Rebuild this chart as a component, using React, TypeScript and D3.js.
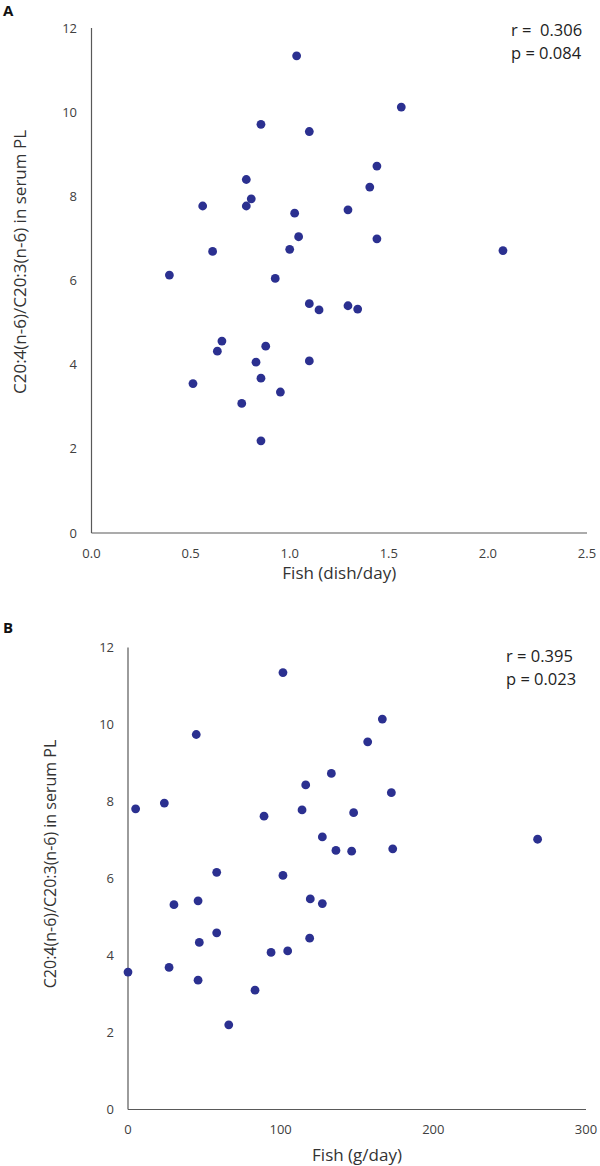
import React from "react";
import * as d3 from "d3";

const fishDishA = [1.035, 0.855, 0.781, 0.806, 0.781, 0.561, 1.025, 1.045, 1.0, 0.611, 0.393, 0.927, 1.563, 1.099, 1.44, 1.404, 1.294, 1.44, 2.076, 0.658, 0.635, 0.879, 0.83, 0.855, 0.512, 0.953, 0.758, 0.855, 1.099, 1.148, 1.294, 1.343, 1.099];
const ratioA = [11.34, 9.71, 8.4, 7.94, 7.77, 7.77, 7.6, 7.04, 6.74, 6.69, 6.13, 6.05, 10.12, 9.54, 8.72, 8.22, 7.68, 6.99, 6.71, 4.56, 4.32, 4.44, 4.06, 3.68, 3.55, 3.35, 3.08, 2.19, 5.45, 5.3, 5.4, 5.32, 4.09];

const fishGramB = [101.5, 44.7, 5.0, 23.8, 89.1, 58.1, 101.5, 166.6, 157, 133.2, 116.4, 172.5, 114, 147.8, 127.3, 136.2, 146.5, 173.4, 268.3, 30.1, 45.9, 58.1, 46.7, 93.7, 104.6, 0, 26.9, 45.9, 83.2, 66, 119.4, 127.3, 119];
const ratioB = [11.35, 9.74, 7.81, 7.96, 7.62, 6.16, 6.08, 10.14, 9.55, 8.73, 8.43, 8.23, 7.78, 7.71, 7.08, 6.73, 6.71, 6.77, 7.02, 5.32, 5.42, 4.59, 4.34, 4.08, 4.12, 3.57, 3.69, 3.36, 3.1, 2.2, 5.47, 5.35, 4.45];

const yTicks = [0, 2, 4, 6, 8, 10, 12];
const xTicksA = [0, 0.5, 1.0, 1.5, 2.0, 2.5];
const xTicksB = [0, 100, 200, 300];

const yLabel = "C20:4(n-6)/C20:3(n-6) in serum PL";
const FONT = "'Open Sans', 'Noto Sans', sans-serif";
const DOT = "#2B3090";

type PanelProps = {
  letter: string;
  letterY: number;
  xs: number[];
  ys: number[];
  xDomain: [number, number];
  xTicks: number[];
  xFmt: (v: number) => string;
  x0: number;
  x1: number;
  yTop: number;
  yBottom: number;
  yLabelX: number;
  yLabelY: number;
  yLabelSize: number;
  yTickX: number;
  xTickY: number;
  xLabelY: number;
  xLabelSize: number;
  xLabel: string;
  statX: number;
  statY: number;
  stats: string[];
};

function Panel(p: PanelProps) {
  const x = d3.scaleLinear().domain(p.xDomain).range([p.x0, p.x1]);
  const y = d3.scaleLinear().domain([0, 12]).range([p.yBottom, p.yTop]);
  return (
    <g>
      <text x={3} y={p.letterY} fontFamily={FONT} fontWeight={700} fontSize={15} fill="#111">{p.letter}</text>
      <line x1={p.x0} x2={p.x0} y1={p.yTop} y2={p.yBottom} stroke="#595959" strokeWidth={1.2} />
      <line x1={p.x0} x2={p.x1} y1={p.yBottom} y2={p.yBottom} stroke="#595959" strokeWidth={1.2} />
      {yTicks.map((t) => (
        <text key={"y" + t} x={p.yTickX} y={y(t)} dy="0.35em" textAnchor="end" fontFamily={FONT} fontSize={13} fill="#404040">{t}</text>
      ))}
      {p.xTicks.map((t) => (
        <text key={"x" + t} x={x(t)} y={p.xTickY} dy="0.35em" textAnchor="middle" fontFamily={FONT} fontSize={13} fill="#404040">{p.xFmt(t)}</text>
      ))}
      <text x={(p.x0 + p.x1) / 2} y={p.xLabelY} dy="0.35em" textAnchor="middle" fontFamily={FONT} fontSize={p.xLabelSize} fill="#333">{p.xLabel}</text>
      <text transform={`translate(${p.yLabelX},${p.yLabelY}) rotate(-90)`} dy="0.35em" textAnchor="middle" fontFamily={FONT} fontSize={p.yLabelSize} fill="#333">{yLabel}</text>
      {p.stats.map((s, i) => (
        <text key={s} x={p.statX} y={p.statY + i * 23} fontFamily={FONT} fontSize={16.5} fill="#222" style={{ whiteSpace: "pre" }} xmlSpace="preserve">{s}</text>
      ))}
      {p.xs.map((v, i) => (
        <circle key={i} cx={x(v)} cy={y(p.ys[i])} r={4.4} fill={DOT} />
      ))}
    </g>
  );
}

export default function App() {
  return (
    <svg width={600} height={1166} style={{ position: "absolute", left: 0, top: 0, background: "#fff" }}>
      <rect width={600} height={1166} fill="#fff" />
      <Panel
        letter="A" letterY={16}
        xs={fishDishA} ys={ratioA}
        xDomain={[0, 2.5]} xTicks={xTicksA} xFmt={(v) => v.toFixed(1)}
        x0={91.5} x1={587} yTop={28} yBottom={533}
        yLabelX={20} yLabelY={262} yLabelSize={17} yTickX={77} xTickY={553} xLabelY={573} xLabelSize={17}
        xLabel="Fish (dish/day)"
        statX={511} statY={36} stats={["r =  0.306", "p = 0.084"]}
      />
      <Panel
        letter="B" letterY={633}
        xs={fishGramB} ys={ratioB}
        xDomain={[0, 300]} xTicks={xTicksB} xFmt={(v) => String(v)}
        x0={128} x1={586} yTop={647.5} yBottom={1109.5}
        yLabelX={50} yLabelY={864} yLabelSize={16} yTickX={114} xTickY={1129} xLabelY={1155} xLabelSize={17}
        xLabel="Fish (g/day)"
        statX={506} statY={662} stats={["r = 0.395", "p = 0.023"]}
      />
    </svg>
  );
}
